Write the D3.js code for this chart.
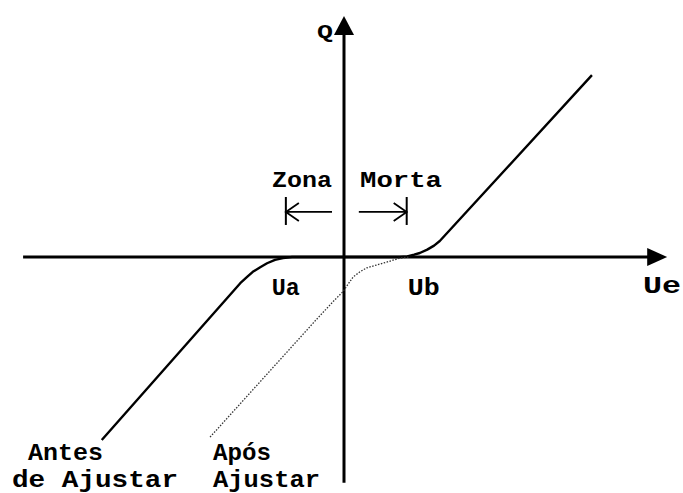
<!DOCTYPE html>
<html>
<head>
<meta charset="utf-8">
<script src="https://cdn.jsdelivr.net/npm/d3@7"></script>
<style>
  body { margin: 0; background: #fff; }
  text { font-family: "Liberation Mono", "DejaVu Sans Mono", monospace; font-weight: bold; fill: #000; }
</style>
</head>
<body>
<svg width="683" height="493"></svg>
<script>
// curve "Antes de Ajustar" (Ue, Q) in units where Ub = 1
const antesUe = [-4.25, -1.82, -1.70, -1.60, -1.47, -1.35, -1.21, -1.07, -0.91,
                 0.98, 1.11, 1.23, 1.33, 1.46, 1.58, 1.68, 4.35];
const antesQ  = [-3.21, -0.46, -0.35, -0.26, -0.18, -0.11, -0.05, -0.02, 0.00,
                 0.00, 0.01, 0.04, 0.07, 0.13, 0.20, 0.28, 3.19];

// curve "Após Ajustar"
const aposUe = [-2.35, -0.46, -0.16, -0.02, 0.16, 0.28, 0.40, 0.75, 0.98, 1.16];
const aposQ  = [-3.16, -1.07, -0.75, -0.61, -0.35, -0.26, -0.19, -0.09, -0.02, 0.00];

// axis extents
const ueRange = [-5.63, 5.67];
const qRange = [-3.96, 4.23];

// dead zone limits and points
const zone = [-1.02, 1.10];
const zoneQ = 0.79;
const pointNames = ["Ua", "Ub"];
const pointUe = [-1.02, 1.40];

svg = d3.select("svg");

xScale = d3.scaleLinear() // Ue
  .domain([0, 1])
  .range([344, 401]);

yScale = d3.scaleLinear() // Q
  .domain([0, 1])
  .range([257, 200]);

g = svg.append("g");

// horizontal axis with arrow
g.append("line")
  .attr("x1", xScale(ueRange[0])).attr("x2", xScale(ueRange[1]) - 10)
  .attr("y1", yScale(0)).attr("y2", yScale(0))
  .attr("stroke", "#000").attr("stroke-width", 3);
tip = xScale(ueRange[1]);
g.append("path")
  .attr("d", "M" + tip + "," + yScale(0) + "L" + (tip - 20) + "," + (yScale(0) - 9) + "L" + (tip - 20) + "," + (yScale(0) + 9) + "Z")
  .attr("fill", "#000");

// vertical axis with arrow
g.append("line")
  .attr("x1", xScale(0)).attr("x2", xScale(0))
  .attr("y1", yScale(qRange[0])).attr("y2", yScale(qRange[1]) + 10)
  .attr("stroke", "#000").attr("stroke-width", 3);
tip = yScale(qRange[1]);
g.append("path")
  .attr("d", "M" + xScale(0) + "," + tip + "L" + (xScale(0) - 10) + "," + (tip + 19) + "L" + (xScale(0) + 10) + "," + (tip + 19) + "Z")
  .attr("fill", "#000");

line = d3.line()
  .x(function(d) {return xScale(d[0]);})
  .y(function(d) {return yScale(d[1]);});

// solid curve, before adjustment
g.append("path")
  .attr("d", line(d3.zip(antesUe, antesQ)))
  .attr("fill", "none")
  .attr("stroke", "#000")
  .attr("stroke-width", 2.4)
  .attr("stroke-linejoin", "round");

// dotted curve, after adjustment
g.append("path")
  .attr("d", line(d3.zip(aposUe, aposQ)))
  .attr("fill", "none")
  .attr("stroke", "#333")
  .attr("stroke-width", 1.3)
  .attr("stroke-dasharray", "1.5,1.5");

// dead zone markers: bar plus open arrow pointing outwards
function zoneArrow(ue, from) {
  x = xScale(ue);
  y = yScale(zoneQ);
  dir = ue < 0 ? 1 : -1;
  g.append("line")
    .attr("x1", x).attr("x2", x)
    .attr("y1", y - 15).attr("y2", y + 13)
    .attr("stroke", "#000").attr("stroke-width", 2);
  g.append("path")
    .attr("d", "M" + xScale(from) + "," + y + "L" + x + "," + y +
      "M" + (x + dir * 13) + "," + (y - 9) + "L" + x + "," + y + "L" + (x + dir * 13) + "," + (y + 9))
    .attr("fill", "none")
    .attr("stroke", "#000").attr("stroke-width", 1.8);
}
zoneArrow(zone[0], -0.21);
zoneArrow(zone[1], 0.26);

// labels
function label(txt, x, y, size, len) {
  t = svg.append("text")
    .attr("x", x).attr("y", y)
    .attr("font-size", size)
    .text(txt);
  if (len) t.attr("textLength", len).attr("lengthAdjust", "spacingAndGlyphs");
  return t;
}
label("Q", 317, 38, 21, 16);
label("Zona", 272, 187, 22, 60);
label("Morta", 360, 187, 22, 82);
pointNames.forEach(function(n, i) {
  w = [28, 32][i];
  label(n, xScale(pointUe[i]) - w / 2, 295, 23, w);
});
label("Ue", 643, 293, 23, 38);
label("Antes", 28, 460, 24, 75);
label("de Ajustar", 12, 487, 24, 166);
label("Após", 213, 460, 24, 58);
label("Ajustar", 213, 487, 24, 107);
</script>
</body>
</html>
